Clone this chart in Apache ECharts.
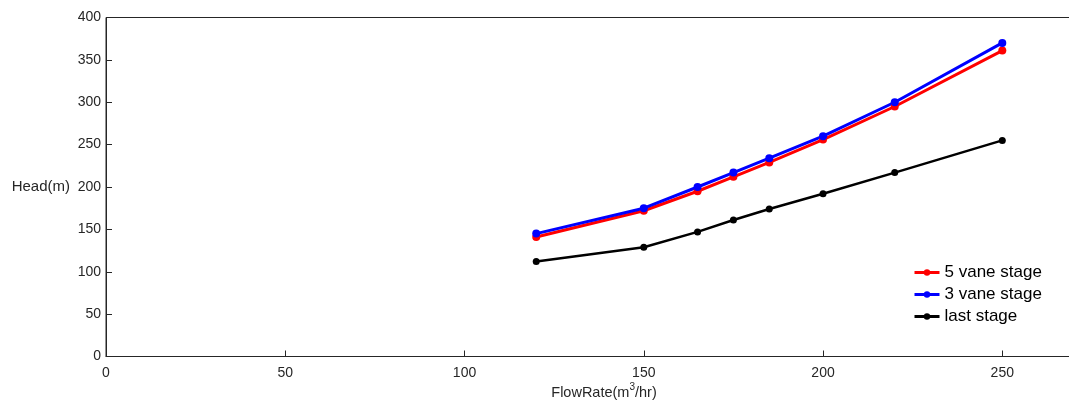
<!DOCTYPE html>
<html>
<head>
<meta charset="utf-8">
<script src="https://cdn.jsdelivr.net/npm/echarts@6/dist/echarts.min.js"></script>
<style>html,body{margin:0;padding:0;background:#fff;}#c{width:1069px;height:401px;}</style>
</head>
<body>
<div id="c"></div>
<script>
const flowRates = [120, 150, 165, 175, 185, 200, 220, 250];
const fiveVane = [141, 172, 195, 212, 229, 256, 295, 361];
const threeVane = [145, 175, 200, 217, 234, 260, 300, 370];
const lastStage = [112, 129, 147, 161, 174, 192, 217, 255];
const seriesNames = ['5 vane stage', '3 vane stage', 'last stage'];
const xTicks = [0, 50, 100, 150, 200, 250];
const yTicks = [0, 50, 100, 150, 200, 250, 300, 350, 400];

const pairs = arr => flowRates.map((x, i) => [x, arr[i]]);
const font = '"Liberation Sans", Arial, Helvetica, sans-serif';
const chart = echarts.init(document.getElementById('c'), null, {renderer: 'canvas'});
const axisCommon = {
  axisLine: {show: true, lineStyle: {color: '#262626', width: 1}},
  axisTick: {show: true, inside: true, length: 6, lineStyle: {color: '#262626'}},
  splitLine: {show: false},
  axisLabel: {color: '#262626', fontFamily: font, fontSize: 14}
};
chart.setOption({
  animation: false,
  backgroundColor: '#fff',
  grid: {left: 106, right: -5, top: 17.5, bottom: 401 - 356.5, outerBoundsMode: 'none', containLabel: false,
    show: true, borderColor: '#262626', borderWidth: 1, backgroundColor: 'transparent'},
  xAxis: Object.assign({}, axisCommon, {
    type: 'value', min: 0, max: 270, interval: 50,
    axisLabel: Object.assign({}, axisCommon.axisLabel, {margin: 10, showMaxLabel: false, formatter: v => xTicks.includes(v) ? String(v) : ''}),
    name: 'FlowRate(m{sup|3}/hr)', nameLocation: 'middle', nameGap: 26, nameMoveOverlap: false,
    nameTextStyle: {color: '#262626', fontFamily: font, fontSize: 14.5, padding: [0, 0, 0, 28],
      rich: {sup: {fontSize: 10, verticalAlign: 'top', padding: [0, 0, 10, 0], fontFamily: font, color: '#262626'}}}
  }),
  yAxis: Object.assign({}, axisCommon, {
    type: 'value', min: 0, max: 400, interval: 50,
    axisLabel: Object.assign({}, axisCommon.axisLabel, {margin: 5, formatter: v => yTicks.includes(v) ? String(v) : ''}),
    name: 'Head(m)', nameLocation: 'middle', nameRotate: 0, nameGap: 36, nameMoveOverlap: false,
    nameTextStyle: {color: '#262626', fontFamily: font, fontSize: 15, align: 'right'}
  }),
  legend: {
    orient: 'vertical', left: 908, top: 259, itemGap: 5, itemWidth: 25, itemHeight: 8,
    textStyle: {color: '#000', fontFamily: font, fontSize: 17, lineHeight: 17},
    data: seriesNames.map(n => ({name: n, lineStyle: {width: 3}}))
  },
  series: [
    {name: seriesNames[0], type: 'line', data: pairs(fiveVane), color: '#ff0000', symbol: 'circle', symbolSize: 8, lineStyle: {width: 3}},
    {name: seriesNames[1], type: 'line', data: pairs(threeVane), color: '#0000ff', symbol: 'circle', symbolSize: 8, lineStyle: {width: 3}},
    {name: seriesNames[2], type: 'line', data: pairs(lastStage), color: '#000000', symbol: 'circle', symbolSize: 7, lineStyle: {width: 2.5}}
  ]
});
</script>
</body>
</html>
